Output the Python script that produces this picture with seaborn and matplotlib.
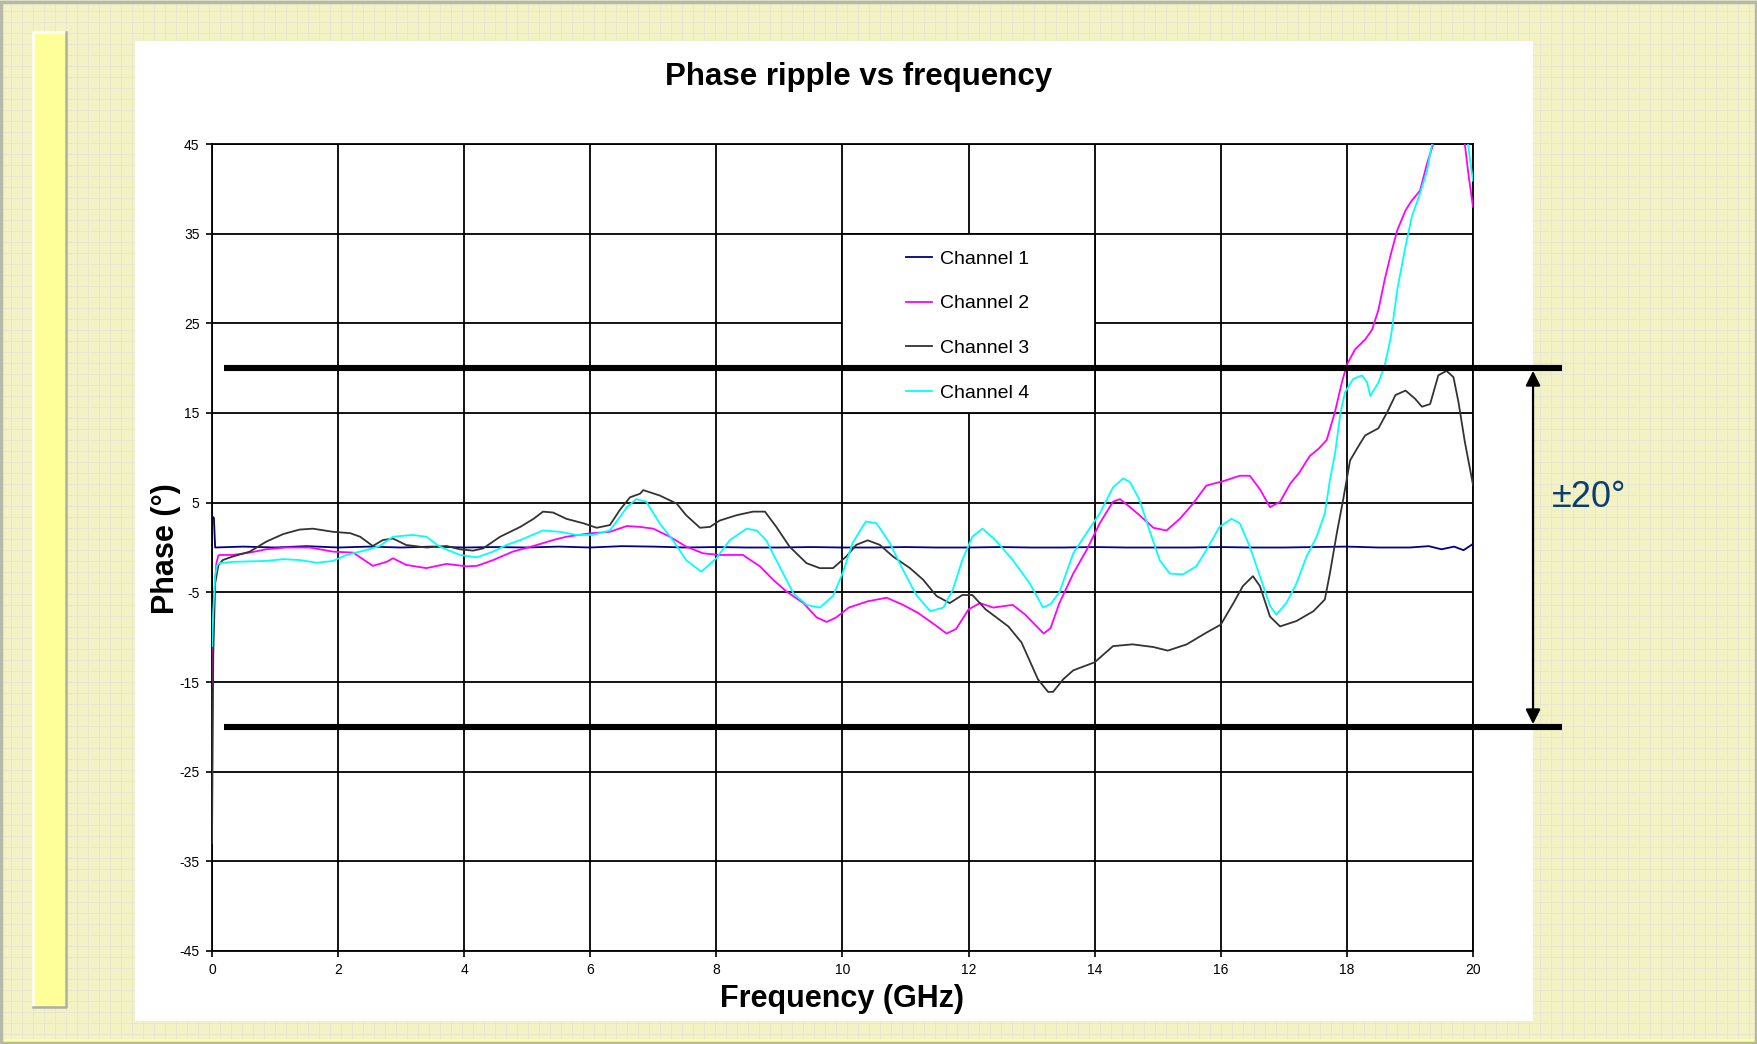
import numpy as np
import pandas as pd
import matplotlib
matplotlib.use("Agg")
import matplotlib.pyplot as plt
import seaborn as sns
from matplotlib.patches import Rectangle
from matplotlib.lines import Line2D

# ---------------- data ----------------
channels = ["Channel 1", "Channel 2", "Channel 3", "Channel 4"]
channel_colors = ["#000080", "#FF00FF", "#333333", "#00FFFF"]

ch1_freq = [0, 0.03, 0.05, 0.5, 1.0, 1.5, 2.0, 2.5, 3.0, 3.5, 4.0, 4.5, 5.0, 5.5, 6.0,
            6.5, 7.0, 7.5, 8.0, 8.5, 9.0, 9.5, 10.0, 10.5, 11.0, 11.5, 12.0, 12.5, 13.0,
            13.5, 14.0, 14.5, 15.0, 15.5, 16.0, 16.5, 17.0, 17.5, 18.0, 18.5, 19.0,
            19.3, 19.5, 19.7, 19.85, 20.0]
ch1_phase = [3.5, 3.3, 0.0, 0.1, 0.0, 0.15, 0.0, 0.1, 0.0, 0.1, 0.0, 0.05, 0.0, 0.1, 0.0,
             0.15, 0.1, 0.0, 0.05, 0.0, 0.0, 0.05, 0.0, 0.0, 0.05, 0.0, 0.0, 0.05, 0.0,
             0.0, 0.05, 0.0, 0.0, 0.0, 0.05, 0.0, 0.0, 0.05, 0.1, 0.0, 0.0,
             0.15, -0.2, 0.1, -0.3, 0.4]

ch2_freq = [0, 0.02, 0.05, 0.07, 0.1, 0.13, 0.33, 0.6, 0.86, 1.18, 1.55, 1.92, 2.24, 2.55,
            2.77, 2.87, 3.08, 3.4, 3.72, 4.04, 4.2, 4.46, 4.77, 5.1, 5.41, 5.62, 5.99, 6.31,
            6.58, 6.78, 7.0, 7.26, 7.52, 7.79, 8.05, 8.42, 8.69, 8.9, 9.11, 9.38, 9.59, 9.75,
            9.9, 10.1, 10.4, 10.7, 10.96, 11.2, 11.5, 11.65, 11.8, 12.0, 12.18, 12.39, 12.7,
            12.9, 13.19, 13.3, 13.44, 13.66, 13.87, 14.08, 14.29, 14.4, 14.56, 14.71, 14.93,
            15.14, 15.35, 15.56, 15.77, 16.04, 16.3, 16.46, 16.62, 16.78, 16.94, 17.1, 17.25,
            17.41, 17.55, 17.68, 17.81, 17.92, 18.0, 18.13, 18.29, 18.4, 18.5, 18.6, 18.7,
            18.8, 18.93, 19.03, 19.16, 19.27, 19.37, 19.6, 19.87, 19.93, 20.0]
ch2_phase = [-15.5, -8, -3.6, -1.75, -0.9, -0.83, -0.83, -0.57, -0.2, 0.0, 0.0, -0.46, -0.57, -2.05,
             -1.6, -1.2, -1.94, -2.3, -1.83, -2.1, -2.05, -1.4, -0.46, 0.17, 0.83, 1.2, 1.57, 1.75,
             2.4, 2.3, 2.1, 1.2, 0.1, -0.65, -0.83, -0.83, -2.1, -3.6, -4.9, -6.2, -7.8, -8.3,
             -7.8, -6.7, -6.0, -5.6, -6.4, -7.3, -8.8, -9.6, -9.1, -6.9, -6.2, -6.7, -6.4,
             -7.5, -9.6, -9.0, -6.2, -2.9, -0.3, 2.7, 5.1, 5.4, 4.5, 3.6, 2.2,
             1.9, 3.2, 4.9, 6.9, 7.4, 8.0, 8.0, 6.5, 4.5, 5.1, 7.1, 8.4,
             10.2, 11.0, 12.0, 15.1, 18.4, 20.4, 22.1, 23.2, 24.3, 26.5, 29.9, 32.8,
             35.4, 37.6, 38.7, 39.8, 42.8, 45.0, 52.0, 45.0, 41.5, 38.0]

ch3_freq = [0, 0.02, 0.05, 0.1, 0.17, 0.33, 0.6, 0.86, 1.13, 1.39, 1.6, 1.92, 2.19, 2.35, 2.55,
            2.71, 2.87, 3.08, 3.4, 3.72, 3.93, 4.14, 4.3, 4.57, 4.89, 5.1, 5.25, 5.41, 5.62,
            5.89, 6.1, 6.31, 6.47, 6.63, 6.79, 6.84, 7.1, 7.37, 7.52, 7.74, 7.9, 8.05, 8.32,
            8.58, 8.77, 8.95, 9.16, 9.43, 9.64, 9.85, 10.06, 10.22, 10.4, 10.59, 10.8, 11.07,
            11.28, 11.49, 11.7, 11.9, 12.06, 12.27, 12.63, 12.84, 13.1, 13.26, 13.34, 13.5,
            13.66, 14.0, 14.29, 14.6, 14.93, 15.16, 15.46, 15.77, 16.0, 16.2, 16.35, 16.51,
            16.62, 16.78, 16.94, 17.2, 17.47, 17.65, 17.73, 17.84, 17.94, 18.05, 18.2, 18.29,
            18.5, 18.64, 18.77, 18.93, 19.08, 19.19, 19.32, 19.45, 19.58, 19.69, 19.77, 19.87,
            20.0]
ch3_phase = [-33, -12, -4, -2, -1.4, -1.0, -0.46, 0.65, 1.5, 2.0, 2.1, 1.75, 1.6, 1.2, 0.17,
             0.83, 1.0, 0.28, 0.0, 0.17, -0.2, -0.35, -0.1, 1.2, 2.3, 3.2, 4.0, 3.9, 3.2,
             2.7, 2.2, 2.5, 4.2, 5.6, 6.0, 6.4, 5.8, 4.9, 3.6, 2.2, 2.3, 3.0, 3.6,
             4.0, 4.0, 2.3, 0.1, -1.75, -2.3, -2.3, -1.0, 0.3, 0.8, 0.3, -1.0, -2.3,
             -3.6, -5.4, -6.2, -5.3, -5.3, -6.9, -8.8, -10.6, -14.7, -16.1, -16.1, -14.7,
             -13.7, -12.8, -11.0, -10.8, -11.1, -11.5, -10.8, -9.5, -8.6, -6.2, -4.3, -3.2,
             -4.3, -7.7, -8.8, -8.2, -7.1, -5.8, -2.9, 1.6, 5.3, 9.7, 11.5, 12.5,
             13.3, 15.1, 17.0, 17.5, 16.6, 15.7, 16.0, 19.2, 19.7, 19.0, 16.2, 11.8,
             7.0]

ch4_freq = [0, 0.02, 0.05, 0.08, 0.12, 0.33, 0.86, 1.13, 1.39, 1.66, 1.92, 2.13, 2.45, 2.66,
            2.87, 3.18, 3.4, 3.61, 3.93, 4.2, 4.46, 4.67, 4.89, 5.25, 5.52, 5.78, 6.04, 6.31,
            6.47, 6.58, 6.73, 6.89, 7.1, 7.31, 7.52, 7.76, 8.0, 8.21, 8.48, 8.64, 8.79, 9.0,
            9.22, 9.43, 9.64, 9.85, 10.0, 10.16, 10.37, 10.54, 10.75, 10.96, 11.17, 11.39,
            11.6, 11.75, 11.9, 12.06, 12.22, 12.43, 12.7, 12.97, 13.18, 13.3, 13.44, 13.66,
            13.87, 14.08, 14.29, 14.45, 14.56, 14.71, 14.87, 15.03, 15.19, 15.4, 15.61, 15.77,
            15.98, 16.17, 16.3, 16.46, 16.62, 16.78, 16.88, 17.04, 17.2, 17.36, 17.52, 17.65,
            17.73, 17.81, 17.9, 17.97, 18.1, 18.24, 18.32, 18.37, 18.5, 18.6, 18.7, 18.8,
            18.93, 19.03, 19.16, 19.27, 19.35, 19.6, 19.92, 20.0]
ch4_phase = [-11, -7, -3.2, -2.0, -1.75, -1.6, -1.5, -1.3, -1.4, -1.7, -1.5, -0.83, -0.28, 0.17,
             1.2, 1.4, 1.2, 0.1, -0.83, -1.1, -0.46, 0.28, 0.83, 1.9, 1.75, 1.4, 1.4, 1.9,
             3.4, 4.5, 5.4, 5.1, 2.7, 0.8, -1.4, -2.7, -1.2, 0.8, 2.1, 1.9, 0.8, -2.1,
             -5.1, -6.4, -6.7, -5.4, -2.9, 0.5, 2.9, 2.7, 0.5, -2.5, -5.3, -7.1,
             -6.7, -4.7, -1.4, 1.2, 2.1, 0.8, -1.4, -4.0, -6.7, -6.3, -5.0, -0.65,
             1.6, 3.8, 6.7, 7.7, 7.3, 5.3, 1.9, -1.4, -2.9, -3.0, -2.1, -0.3,
             2.3, 3.2, 2.7, 0.1, -3.2, -6.5, -7.5, -6.2, -4.0, -1.0, 1.2, 3.8,
             7.5, 10.4, 15.1, 17.3, 18.8, 19.2, 18.4, 16.9, 18.4, 20.3, 23.6, 28.8,
             33.6, 36.9, 39.5, 42.0, 45.0, 52.0, 45.0, 40.9]

x_ticks = [0, 2, 4, 6, 8, 10, 12, 14, 16, 18, 20]
y_ticks = [-45, -35, -25, -15, -5, 5, 15, 25, 35, 45]
limit_levels = [20, -20]
title_text = "Phase ripple vs frequency"
x_label = "Frequency (GHz)"
y_label = "Phase (°)"
band_text = "±20°"

# ---------------- build long table ----------------
frames = []
for name, f, p in zip(channels,
                      [ch1_freq, ch2_freq, ch3_freq, ch4_freq],
                      [ch1_phase, ch2_phase, ch3_phase, ch4_phase]):
    frames.append(pd.DataFrame({"freq": f, "phase": p, "channel": name}))
df = pd.concat(frames, ignore_index=True)

# ---------------- figure ----------------
plt.rcParams["font.family"] = ["Liberation Sans", "DejaVu Sans"]
plt.rcParams["axes.unicode_minus"] = False

W, H = 1758, 1044
fig = plt.figure(figsize=(W / 100, H / 100), dpi=100)

# background "slide" axes in pixel units (y downward)
bg = fig.add_axes([0, 0, 1, 1], zorder=-10)
bg.set_xlim(0, W)
bg.set_ylim(H, 0)
bg.set_facecolor("#F2F2C4")
bg.set_xticks(np.arange(0, W, 11))
bg.set_yticks(np.arange(0, H, 11))
bg.set_axisbelow(True)
bg.grid(True, color="#E6E6D2", lw=0.7)
bg.tick_params(left=False, bottom=False, labelleft=False, labelbottom=False)
for s in bg.spines.values():
    s.set_visible(False)
bg.add_patch(Rectangle((1.5, 1.5), W - 3, H - 3, fill=False, edgecolor="#B8B8A8",
                       lw=2.5, zorder=3))
bg.add_patch(Rectangle((0, 1039), W, 3, facecolor="#FFFF99", edgecolor="none", zorder=2))
# yellow side bar
bg.add_patch(Rectangle((33, 32), 33, 974, facecolor="#FFFF99", edgecolor="none", zorder=2))
bg.plot([33, 33, 66], [1006, 32, 32], color="white", lw=1.8, zorder=3)
bg.plot([66.5, 66.5, 33], [32, 1006.5, 1006.5], color="#B0B0A0", lw=1.8, zorder=3)
# white chart area
bg.add_patch(Rectangle((135, 41), 1398, 980, facecolor="white", edgecolor="none", zorder=2))

# main plot axes
ax = fig.add_axes([212 / W, 1 - 951 / H, 1261 / W, 807 / H])
ax.set_facecolor("white")

palette = dict(zip(channels, channel_colors))
sns.lineplot(data=df, x="freq", y="phase", hue="channel", hue_order=channels,
             palette=palette, estimator=None, sort=False, lw=1.3, ax=ax,
             legend=False, zorder=3)

ax.set_xlim(0, 20)
ax.set_ylim(-45, 45)
ax.set_xticks(x_ticks)
ax.set_yticks(y_ticks)
ax.set_axisbelow(True)
ax.grid(True, color="black", lw=1.3)
for s in ax.spines.values():
    s.set_color("black")
    s.set_linewidth(1.3)
ax.tick_params(direction="out", length=4, width=1.2, color="black",
               labelsize=10, pad=5)

ax.set_xlabel(x_label, fontsize=22, fontweight="bold", va="center")
ax.xaxis.set_label_coords(0.5, -0.060)
ax.set_ylabel(y_label, fontsize=22, fontweight="bold", va="center")
ax.yaxis.set_label_coords(-0.0365, 0.498)

fig.text(859 / W, 1 - 77 / H, title_text, ha="center", va="center",
         fontsize=22.5, fontweight="bold")

# legend box (white, covering grid) and legend entries
ax.add_patch(Rectangle((10, 15), 4, 20, facecolor="white", edgecolor="black",
                       lw=1.3, zorder=1.5))
handles = [Line2D([], [], color=c, lw=1.3) for c in channel_colors]
leg = ax.legend(handles, channels, loc="center left", bbox_to_anchor=(11.0, 24.7),
                bbox_transform=ax.transData, frameon=False, fontsize=14,
                handlelength=1.35, handletextpad=0.4, labelspacing=1.4,
                borderpad=0, borderaxespad=0)
leg.set_zorder(4)

# +/-20 degree limit lines, arrow and label
ytr = ax.get_yaxis_transform()
for lvl in limit_levels:
    ax.plot([0.0095, 1.0706], [lvl, lvl], transform=ytr, color="black", lw=4.4,
            clip_on=False, zorder=5, solid_capstyle="butt")
ax.annotate("", xy=(1.0476, limit_levels[0] - 0.3), xytext=(1.0476, limit_levels[1] + 0.3),
            xycoords=ytr, textcoords=ytr,
            arrowprops=dict(arrowstyle="<|-|>", mutation_scale=22, lw=1.6,
                            color="black", shrinkA=0, shrinkB=0),
            annotation_clip=False, zorder=5)
ax.text(1.0626, 5.6, band_text, transform=ytr, ha="left", va="center",
        fontsize=26, color="#0B3D6E", clip_on=False)

fig.savefig("out.png", dpi=100)
